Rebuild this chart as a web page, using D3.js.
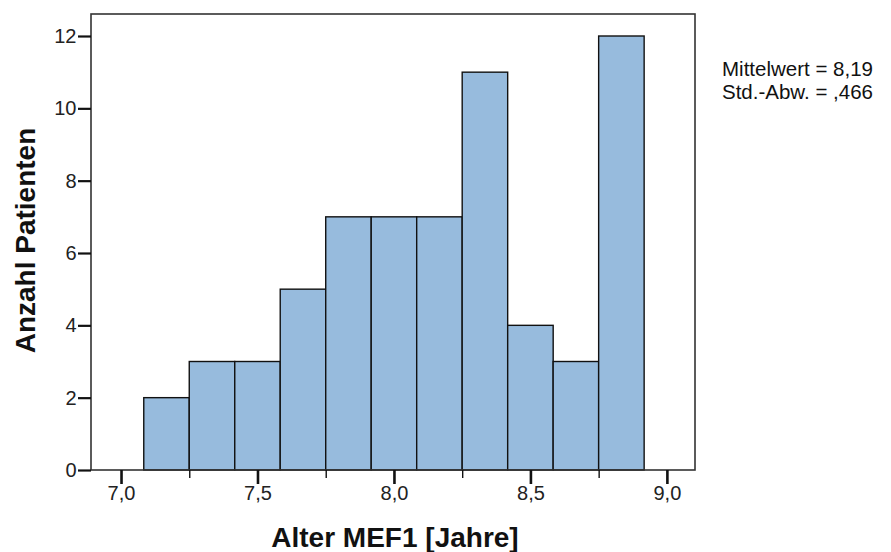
<!DOCTYPE html>
<html>
<head>
<meta charset="utf-8">
<script src="https://cdn.jsdelivr.net/npm/d3@7/dist/d3.min.js"></script>
<style>
  html, body { margin: 0; padding: 0; background: #fff; }
  svg { display: block; font-family: "Liberation Sans", Arial, sans-serif; }
</style>
</head>
<body>
<svg id="chart" width="891" height="552"></svg>
<script>
// Histogram bins (age in years, 2-month bins) and patient counts
const binStarts = [7.0833, 7.25, 7.4167, 7.5833, 7.75, 7.9167, 8.0833, 8.25, 8.4167, 8.5833, 8.75];
const binWidth = 1 / 6;
const counts = [2, 3, 3, 5, 7, 7, 7, 11, 4, 3, 12];

const xMajorTicks = [7.0, 7.5, 8.0, 8.5, 9.0];
const xMinorTicks = [7.25, 7.75, 8.25, 8.75];
const yTicks = [0, 2, 4, 6, 8, 10, 12];

const statLines = ["Mittelwert = 8,19", "Std.-Abw. = ,466"];
const xTitle = "Alter MEF1 [Jahre]";
const yTitle = "Anzahl Patienten";

const plot = { left: 91, right: 695, top: 14, bottom: 470 };
const font = "Liberation Sans, Arial, sans-serif";

const svg = d3.select("#chart");

const x = d3.scaleLinear().domain([6.89, 9.103]).range([plot.left, plot.right]);
const y = d3.scaleLinear().domain([0, 12]).range([plot.bottom, 36]);

// Bars
svg.append("g")
  .selectAll("rect")
  .data(binStarts.map((s, i) => ({ s, c: counts[i] })))
  .join("rect")
  .attr("x", d => x(d.s))
  .attr("width", d => x(d.s + binWidth) - x(d.s))
  .attr("y", d => y(d.c))
  .attr("height", d => y(0) - y(d.c))
  .attr("fill", "#97bbdd")
  .attr("stroke", "#111")
  .attr("stroke-width", 1.4);

// Plot frame
svg.append("rect")
  .attr("x", plot.left).attr("y", plot.top)
  .attr("width", plot.right - plot.left).attr("height", plot.bottom - plot.top)
  .attr("fill", "none").attr("stroke", "#333").attr("stroke-width", 1.6);

// Y axis
const yAxis = d3.axisLeft(y).tickValues(yTicks).tickSize(13).tickPadding(1.5).tickFormat(d3.format("d"));
const gy = svg.append("g").attr("transform", `translate(${plot.left},0)`).call(yAxis);
gy.select(".domain").remove();
gy.selectAll(".tick line").attr("stroke", "#111").attr("stroke-width", 2.2);
gy.selectAll(".tick text").attr("font-size", 20).attr("fill", "#222").attr("font-family", font);

// X axis: major ticks with labels
const fmtComma = d => d3.format(".1f")(d).replace(".", ",");
const xAxis = d3.axisBottom(x).tickValues(xMajorTicks).tickSize(14).tickPadding(2).tickFormat(fmtComma);
const gx = svg.append("g").attr("transform", `translate(0,${plot.bottom})`).call(xAxis);
gx.select(".domain").remove();
gx.selectAll(".tick line").attr("stroke", "#111").attr("stroke-width", 2.6);
gx.selectAll(".tick text").attr("font-size", 20).attr("fill", "#222").attr("font-family", font);

// X axis: minor ticks
const xMinor = d3.axisBottom(x).tickValues(xMinorTicks).tickSize(8).tickFormat("");
const gxm = svg.append("g").attr("transform", `translate(0,${plot.bottom})`).call(xMinor);
gxm.select(".domain").remove();
gxm.selectAll(".tick line").attr("stroke", "#111").attr("stroke-width", 1.4);

// Axis titles
svg.append("text")
  .attr("x", 395).attr("y", 547)
  .attr("text-anchor", "middle")
  .attr("font-size", 28).attr("font-weight", "bold").attr("fill", "#111")
  .text(xTitle);

svg.append("text")
  .attr("transform", `translate(35,240.5) rotate(-90)`)
  .attr("text-anchor", "middle")
  .attr("font-size", 28).attr("font-weight", "bold").attr("fill", "#111")
  .text(yTitle);

// Summary statistics
svg.append("g")
  .selectAll("text")
  .data(statLines)
  .join("text")
  .attr("x", 722)
  .attr("y", (d, i) => 76 + i * 23)
  .attr("font-size", 20.5).attr("fill", "#111")
  .text(d => d);
</script>
</body>
</html>
